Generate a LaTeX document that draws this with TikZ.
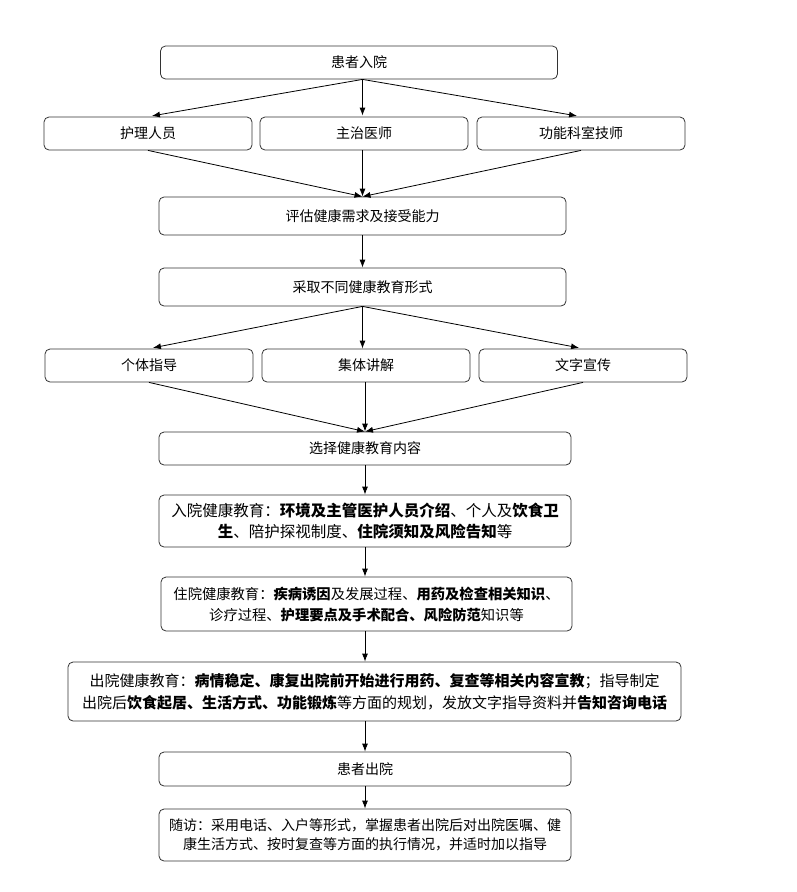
\documentclass[tikz,border=0pt]{standalone}
\usepackage{fontspec}
\setmainfont{Noto Sans CJK SC}
\usetikzlibrary{arrows.meta}

\begin{document}
\begin{tikzpicture}[x=1pt, y=-1pt, line width=0.8pt, >={Latex[length=8pt,width=6pt]},
    box/.style = {draw=black!80, rounded corners=5pt, minimum height=33pt, inner sep=2pt, align=center, font=\fontsize{14}{19}\selectfont},
    side/.style = {box, minimum width=208pt},
    mid/.style = {box, minimum width=412pt}]
\useasboundingbox (0,0) rectangle (797,892);

    \node[box, minimum width=397pt] (adm) at (359,62.5) {患者入院};
    \node[side] (nurse) at (148,133.5) {护理人员};
    \node[side] (doc) at (364,133.5) {主治医师};
    \node[side] (tech) at (581,133.5) {功能科室技师};
    \node[box, minimum width=407pt, minimum height=38pt] (assess) at (362.5,216) {评估健康需求及接受能力};
    \node[box, minimum width=407pt, minimum height=38pt] (form) at (362.5,287) {采取不同健康教育形式};
    \node[side] (single) at (149,365.5) {个体指导};
    \node[side] (group) at (366,365.5) {集体讲解};
    \node[side] (paper) at (583,365.5) {文字宣传};
    \node[mid] (choose) at (365,448.5) {选择健康教育内容};
    \node[mid, minimum height=52pt, font=\fontsize{15.5}{21}\selectfont] (inedu) at (365,521)
        {入院健康教育：\textbf{环境及主管医护人员介绍}、个人及\textbf{饮食卫}\\
         \textbf{生}、陪护探视制度、\textbf{住院须知及风险告知}等};
    \node[mid, minimum width=411pt, minimum height=54pt, font=\fontsize{14.3}{21}\selectfont] (stayedu) at (366.5,604)
        {住院健康教育：\textbf{疾病诱因}及发展过程、\textbf{用药及检查相关知识}、\\
         诊疗过程、\textbf{护理要点及手术配合、风险防范}知识等};
    \node[box, minimum width=613pt, minimum height=59pt, font=\fontsize{15}{22}\selectfont] (outedu) at (374.5,691.5)
        {出院健康教育：\textbf{病情稳定、康复出院前开始进行用药、复查等相关内容宣教}；指导制定\\
         出院后\textbf{饮食起居、生活方式、功能锻炼}等方面的规划，发放文字指导资料并\textbf{告知咨询电话}};
    \node[mid, minimum height=34pt] (out) at (365,769) {患者出院};
    \node[mid, minimum height=52pt] (follow) at (365,835)
        {随访：采用电话、入户等形式，掌握患者出院后对出院医嘱、健\\
         康生活方式、按时复查等方面的执行情况，并适时加以指导};

\draw[->, shorten >=4pt] (adm.south -| assess.north) -- (nurse.north);
\draw[->, shorten >=1pt] (adm.south -| assess.north) -- (assess.north |- doc.north);
\draw[->, shorten >=4pt] (adm.south -| assess.north) -- (tech.north);
\draw[->] (nurse.south) -- (assess.north);
\draw[->] (assess.north |- doc.south) -- (assess.north);
\draw[->] (tech.south) -- (assess.north);
\draw[->] (assess.south) -- (form.north);
\draw[->, shorten >=4pt] (form.south) -- (single.north);
\draw[->] (form.south) -- (form.south |- group.north);
\draw[->, shorten >=4pt] (form.south) -- (paper.north);
\draw[->] (single.south) -- (choose.north);
\draw[->] (group.south -| choose.north) -- (choose.north);
\draw[->] (paper.south) -- (choose.north);
\draw[->] (choose.south) -- (inedu.north);
\draw[->] (inedu.south) -- (inedu.south |- stayedu.north);
\draw[->] (stayedu.south -| out.north) -- (out.north |- outedu.north);
\draw[->] (outedu.south -| out.north) -- (out.north);
\draw[->] (out.south) -- (follow.north);
\end{tikzpicture}
\end{document}
